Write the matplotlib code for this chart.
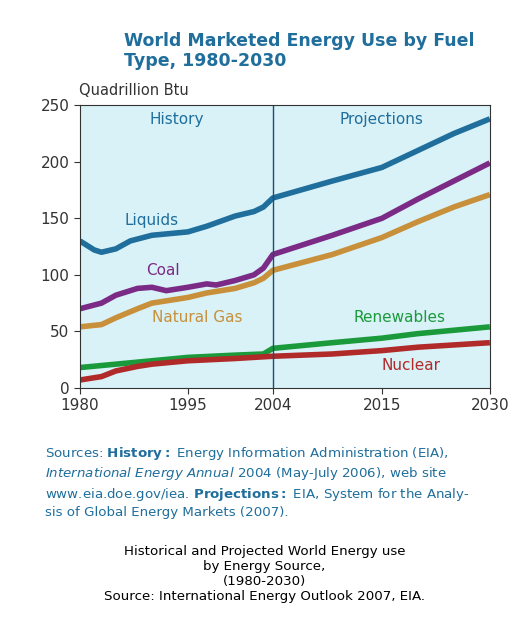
import numpy as np
import matplotlib.pyplot as plt

plt.rcParams['mathtext.fontset'] = 'dejavusans'

# tick years sit on a stretched axis in the original; map years to positions
tick_years = [1980, 1995, 2004, 2015, 2030]
tick_pos = [0, 108, 193, 302, 410]

liquids_yr = [1980, 1982, 1983, 1985, 1987, 1990, 1995, 1997, 2000, 2002, 2003, 2004, 2010, 2015, 2020, 2025, 2030]
liquids = [130, 122, 120, 123, 130, 135, 138, 143, 152, 156, 160, 168, 183, 195, 210, 225, 238]
coal_yr = [1980, 1983, 1985, 1988, 1990, 1992, 1995, 1997, 1998, 2000, 2002, 2003, 2004, 2010, 2015, 2020, 2025, 2030]
coal = [70, 75, 82, 88, 89, 86, 89, 92, 91, 95, 100, 106, 118, 135, 150, 167, 183, 199]
gas_yr = [1980, 1983, 1985, 1988, 1990, 1992, 1995, 1997, 2000, 2002, 2003, 2004, 2010, 2015, 2020, 2025, 2030]
gas = [54, 56, 62, 70, 75, 77, 80, 84, 88, 93, 97, 104, 118, 133, 147, 160, 171]
renew_yr = [1980, 1985, 1990, 1995, 2000, 2003, 2004, 2010, 2015, 2020, 2025, 2030]
renew = [18, 21, 24, 27, 29, 30, 35, 40, 44, 48, 51, 54]
nuc_yr = [1980, 1983, 1985, 1988, 1990, 1995, 2000, 2004, 2010, 2015, 2020, 2025, 2030]
nuclear = [7, 10, 15, 19, 21, 24, 26, 28, 30, 33, 36, 38, 40]

def pos(years):
    return np.interp(years, tick_years, tick_pos)

fig = plt.figure(figsize=(5.29, 6.38), dpi=100)
ax = fig.add_axes([0.151, 0.392, 0.775, 0.443])
ax.set_facecolor('#d8f2f8')

# data, colour, label, label year, label value
series = [
    (liquids_yr, liquids, '#1f6e9c', 'Liquids', 1990, 144),
    (coal_yr, coal, '#7b2a86', 'Coal', 1991.5, 100),
    (gas_yr, gas, '#c8903a', 'Natural Gas', 1996, 58),
    (renew_yr, renew, '#1a9a3a', 'Renewables', 2017.5, 58),
    (nuc_yr, nuclear, '#b02a2a', 'Nuclear', 2019, 16),
]
for yrs, vals, col, name, lx, ly in series:
    ax.plot(pos(yrs), vals, color=col, lw=4, solid_capstyle='butt')
    ax.text(pos(lx), ly, name, color=col, fontsize=11, ha='center')

ax.axvline(pos(2004), color='#1f4e6c', lw=1)
ax.text(pos(1993.5), 233, 'History', color='#1f6e9c', fontsize=11, ha='center')
ax.text(pos(2015), 233, 'Projections', color='#1f6e9c', fontsize=11, ha='center')

ax.set_xlim(0, 410)
ax.set_ylim(0, 250)
ax.set_xticks(tick_pos)
ax.set_xticklabels([str(y) for y in tick_years])
ax.set_yticks(range(0, 251, 50))
ax.tick_params(labelsize=11, colors='#333333', length=4)
for s in ax.spines.values():
    s.set_color('#333333')

fig.text(0.235, 0.92, 'World Marketed Energy Use by Fuel\nType, 1980-2030', color='#1f6e9c',
         fontsize=12.5, fontweight='bold', va='center', linespacing=1.1)
fig.text(0.15, 0.858, 'Quadrillion Btu', color='#333333', fontsize=10.5, va='center')

src = ('Sources: $\\mathbf{History}$$\\mathbf{:}$ Energy Information Administration (EIA),\n'
       '$\\mathit{International\\ Energy\\ Annual\\ 2004}$ (May-July 2006), web site\n'
       'www.eia.doe.gov/iea. $\\mathbf{Projections}$$\\mathbf{:}$ EIA, System for the Analy-\n'
       'sis of Global Energy Markets (2007).')
fig.text(0.085, 0.245, src, color='#1f6e9c', fontsize=9.6, va='center', linespacing=1.3)
fig.text(0.5, 0.1, 'Historical and Projected World Energy use\nby Energy Source,\n(1980-2030)\n'
         'Source: International Energy Outlook 2007, EIA.', color='black', fontsize=9.6,
         ha='center', va='center', linespacing=1.2)

fig.savefig('out.png', dpi=100)
